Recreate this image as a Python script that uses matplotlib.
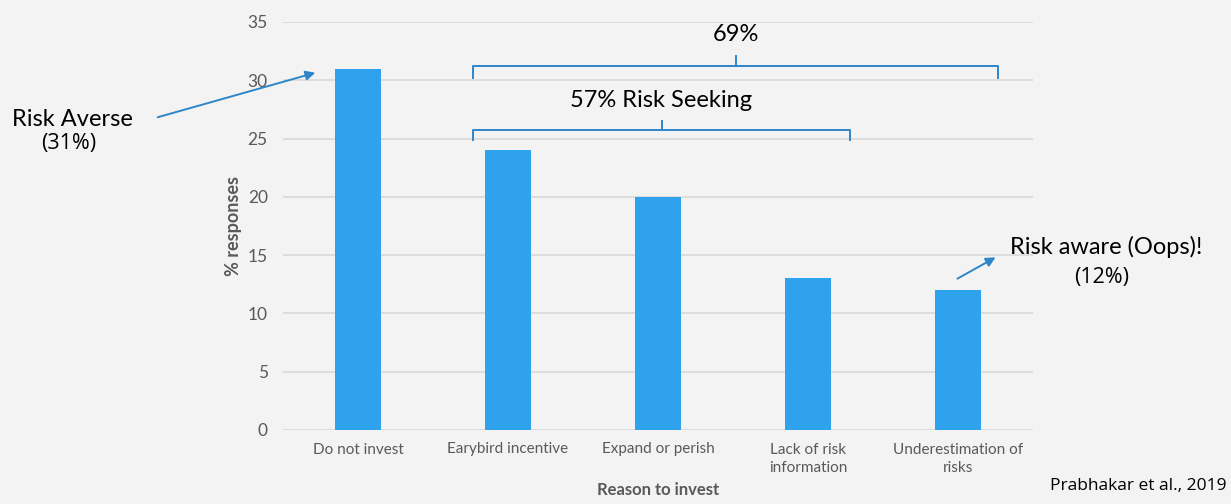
import matplotlib
matplotlib.use("Agg")
import matplotlib.pyplot as plt
from matplotlib.patches import FancyArrowPatch

categories = ["Do not invest", "Earybird incentive", "Expand or perish",
              "Lack of risk\ninformation", "Underestimation of\nrisks"]
values = [31, 24, 20, 13, 12]
yticks = [0, 5, 10, 15, 20, 25, 30, 35]

BG = "#f3f3f3"
BAR = "#2fa2ee"
LINE = "#2e86c8"
GRAY = "#595959"
MAIN = "Lato"
ALT = "Open Sans"

fig = plt.figure(figsize=(12.31, 5.04), dpi=100, facecolor=BG)
ax = fig.add_axes([283/1231, 74/504, 750/1231, 408/504])
ax.set_facecolor(BG)

x = list(range(len(categories)))
ax.bar(x, values, width=0.31, color=BAR, zorder=3)
ax.set_xlim(-0.5, len(categories) - 0.5)
ax.set_ylim(0, 35)
ax.set_yticks(yticks)
ax.set_xticks(x)
ax.set_xticklabels(categories, fontsize=11, color=GRAY, family=MAIN, linespacing=1.45)
ax.set_yticklabels([str(t) for t in yticks], fontsize=12.5, color=GRAY, family=MAIN)
ax.tick_params(axis="both", length=0)
ax.tick_params(axis="y", pad=11)
ax.tick_params(axis="x", pad=9)
ax.grid(axis="y", color="#d9d9d9", linewidth=1.2, zorder=0)
for s in ax.spines.values():
    s.set_visible(False)

ax.set_ylabel("% responses", fontsize=13, color=GRAY, family=MAIN,
              fontweight="bold", labelpad=4)
ax.set_xlabel("Reason to invest", fontsize=12, color=GRAY, family=MAIN,
              fontweight="bold", labelpad=5)


def bracket(x0, x1, y, drop, rise):
    xm = (x0 + x1) / 2
    ax.plot([x0, x0, x1, x1], [y - drop, y, y, y - drop], color=LINE,
            lw=1.4, zorder=4, solid_joinstyle="round", clip_on=False)
    ax.plot([xm, xm], [y, y + rise], color=LINE, lw=1.4, zorder=4, clip_on=False)
    return xm

bracket(0.767, 4.267, 31.2, 1.0, 0.9)
ax.text(2.52, 33.9, "69%", ha="center", va="center", fontsize=17, family=MAIN)
bracket(0.767, 3.28, 25.7, 0.8, 0.8)
ax.text(2.02, 28.25, "57% Risk Seeking", ha="center", va="center", fontsize=17, family=MAIN)

# Annotations in figure pixel coordinates
def fx(px):
    return px / 1231

def fy(py):
    return 1 - py / 504

fig.text(fx(12), fy(119), "Risk Averse", ha="left", va="center", fontsize=17, family=MAIN)
fig.text(fx(69), fy(143), "(31%)", ha="center", va="center", fontsize=15.5, family=ALT)
fig.patches.append(FancyArrowPatch((fx(155), fy(118)), (fx(318), fy(72)),
                                   transform=fig.transFigure, arrowstyle="-|>",
                                   mutation_scale=14, color=LINE, lw=1.4))

fig.text(fx(1010), fy(247), "Risk aware (Oops)!", ha="left", va="center", fontsize=17, family=MAIN)
fig.text(fx(1102), fy(278), "(12%)", ha="center", va="center", fontsize=15.5, family=ALT)
fig.patches.append(FancyArrowPatch((fx(955), fy(280)), (fx(998), fy(256)),
                                   transform=fig.transFigure, arrowstyle="-|>",
                                   mutation_scale=14, color=LINE, lw=1.4))

fig.text(fx(1226), fy(486), "Prabhakar et al., 2019", ha="right", va="center",
         fontsize=12.5, family=ALT)

fig.savefig("out.png", dpi=100, facecolor=BG)
